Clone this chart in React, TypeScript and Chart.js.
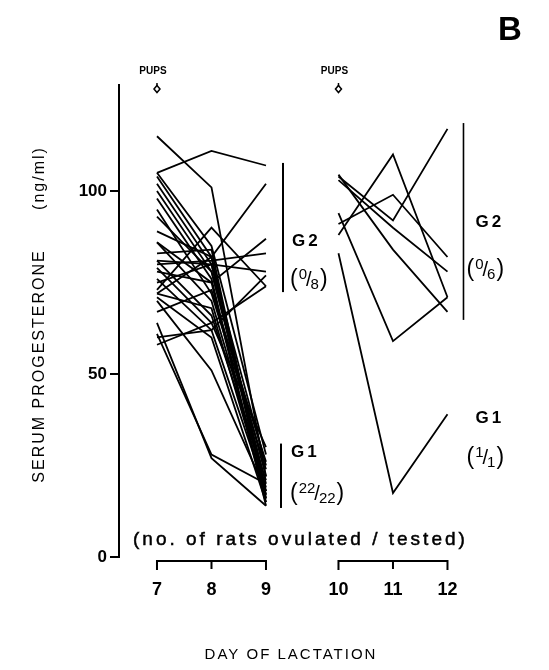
import React, { useEffect, useRef } from 'react';
import { Chart, registerables } from 'chart.js';

Chart.register(...registerables);

const FF = '"Liberation Sans", Arial, Helvetica, sans-serif';

// Days of lactation (two panels, with an axis break between 9 and 10)
const DAYS_EARLY = [7, 8, 9];
const DAYS_LATE = [10, 11, 12];
const X_TICK_DAYS = [7, 8, 9, 10, 11, 12];
const X_TICK_LABELS = ['7', '8', '9', '10', '11', '12'];
const Y_TICKS = [0, 50, 100];
const AXIS_BREAK = 0.33;

// Serum progesterone (ng/ml), one row per rat, values at days 7, 8, 9
const G1_EARLY: number[][] = [
  [115, 101, 22],
  [105, 85, 28],
  [104, 82, 18],
  [102, 80, 16],
  [100, 78, 20],
  [98, 76, 15],
  [95, 72, 24],
  [93, 78, 22],
  [89, 82, 17],
  [86, 70, 19],
  [83, 84, 16],
  [81, 66, 21],
  [78, 75, 14],
  [76, 62, 18],
  [75, 80, 25],
  [72, 68, 17],
  [71, 60, 15],
  [70, 51, 18],
  [67, 73, 26],
  [64, 27, 14],
  [61, 28, 20],
  [58, 64, 30],
];
const G2_EARLY: number[][] = [
  [105, 111, 107],
  [72, 82, 102],
  [73, 90, 74],
  [86, 75, 87],
  [80, 81, 83],
  [81, 80, 78],
  [60, 62, 77],
  [79, 64, 74],
];
// values at days 10, 11, 12
const G2_LATE: number[][] = [
  [104, 92, 117],
  [104.5, 84, 67],
  [88, 110, 71],
  [94, 59, 71],
  [91, 99, 82],
  [103, 90, 78],
];
const G1_LATE: number[][] = [[83, 17.5, 39]];

const pos = (d: number) => (d >= 10 ? d + AXIS_BREAK : d);

function frac(ctx: CanvasRenderingContext2D, x: number, yc: number, num: string, den: string) {
  ctx.textBaseline = 'alphabetic';
  ctx.textAlign = 'left';
  ctx.font = `23px ${FF}`;
  ctx.fillText('(', x, yc + 8);
  let cx = x + ctx.measureText('(').width + 1;
  ctx.font = `15px ${FF}`;
  ctx.fillText(num, cx, yc + 1);
  cx += ctx.measureText(num).width - 1;
  ctx.font = `20px ${FF}`;
  ctx.fillText('/', cx, yc + 8);
  cx += ctx.measureText('/').width - 1;
  ctx.font = `15px ${FF}`;
  ctx.fillText(den, cx, yc + 11);
  cx += ctx.measureText(den).width + 1;
  ctx.font = `23px ${FF}`;
  ctx.fillText(')', cx, yc + 8);
}

const annotations = {
  id: 'annotations',
  afterDraw(chart: any) {
    const { ctx } = chart;
    const xs = chart.scales.x;
    const ys = chart.scales.y;
    const X = (d: number) => xs.getPixelForValue(pos(d));
    const Y = (v: number) => ys.getPixelForValue(v);
    ctx.save();
    ctx.fillStyle = '#000';
    ctx.strokeStyle = '#000';

    // Panel letter
    ctx.font = `bold 33px ${FF}`;
    ctx.textAlign = 'center';
    ctx.textBaseline = 'middle';
    ctx.fillText('B', 510, 31);

    // PUPS markers
    for (const d of [7, 10]) {
      const px = X(d);
      ctx.font = `bold 10px ${FF}`;
      ctx.textAlign = 'center';
      ctx.textBaseline = 'middle';
      ctx.fillText('PUPS', px - 4, 71);
      ctx.lineWidth = 1.5;
      ctx.beginPath();
      ctx.moveTo(px, 83);
      ctx.lineTo(px, 86);
      ctx.stroke();
      ctx.beginPath();
      ctx.moveTo(px, 85.5);
      ctx.lineTo(px + 3, 89);
      ctx.lineTo(px, 92.5);
      ctx.lineTo(px - 3, 89);
      ctx.closePath();
      ctx.stroke();
    }

    // x brackets and day labels
    const by = Y(0) + 4;
    ctx.lineWidth = 2;
    for (const group of [DAYS_EARLY, DAYS_LATE]) {
      ctx.beginPath();
      ctx.moveTo(X(group[0]), by + 9);
      ctx.lineTo(X(group[0]), by);
      ctx.lineTo(X(group[group.length - 1]), by);
      ctx.lineTo(X(group[group.length - 1]), by + 9);
      ctx.moveTo(X(group[1]), by);
      ctx.lineTo(X(group[1]), by + 8);
      ctx.stroke();
    }
    ctx.font = `bold 18px ${FF}`;
    ctx.textAlign = 'center';
    ctx.textBaseline = 'middle';
    X_TICK_DAYS.forEach((d, i) => ctx.fillText(X_TICK_LABELS[i], X(d), by + 29));

    // Axis titles and notes
    (ctx as any).letterSpacing = '3px';
    ctx.font = `19px ${FF}`;
    ctx.textAlign = 'left';
    ctx.lineWidth = 0.5;
    ctx.fillText('(no. of rats ovulated / tested)', X(7) - 24, Y(0) - 17);
    ctx.strokeText('(no. of rats ovulated / tested)', X(7) - 24, Y(0) - 17);
    (ctx as any).letterSpacing = '2px';
    ctx.font = `15px ${FF}`;
    ctx.textAlign = 'center';
    ctx.fillText('DAY OF LACTATION', 291, 655);

    ctx.save();
    ctx.translate(40, 0);
    ctx.rotate(-Math.PI / 2);
    ctx.font = `16px ${FF}`;
    ctx.textAlign = 'center';
    ctx.fillText('SERUM PROGESTERONE', -366, 0);
    ctx.fillText('(ng/ml)', -178, 0);
    ctx.restore();

    // Group brackets
    ctx.lineWidth = 2;
    const vline = (px: number, a: number, b: number) => {
      ctx.beginPath();
      ctx.moveTo(px, Y(a));
      ctx.lineTo(px, Y(b));
      ctx.stroke();
    };
    vline(X(9) + 17, 107.7, 72.4);
    vline(X(9) + 15, 31, 13.4);
    ctx.lineWidth = 1.6;
    vline(X(12) + 16, 118.6, 64.8);

    // Group labels
    (ctx as any).letterSpacing = '3px';
    ctx.font = `bold 17px ${FF}`;
    ctx.textAlign = 'left';
    ctx.textBaseline = 'middle';
    ctx.fillText('G2', X(9) + 26, Y(86.3));
    ctx.fillText('G1', X(9) + 25, Y(28.7));
    ctx.fillText('G2', X(12) + 28, Y(91.5));
    ctx.fillText('G1', X(12) + 28, Y(38));
    (ctx as any).letterSpacing = '0px';
    frac(ctx, X(9) + 24, Y(76.2), '0', '8');
    frac(ctx, X(9) + 24, Y(17.8), '22', '22');
    frac(ctx, X(12) + 19, Y(79), '0', '6');
    frac(ctx, X(12) + 19, Y(27.6), '1', '1');

    ctx.restore();
  },
};

function series(rows: number[][], days: number[]) {
  return rows.map((row) => ({
    data: days.map((d, i) => ({ x: pos(d), y: row[i] })),
    borderColor: '#000',
    borderWidth: 1.8,
    pointRadius: 0,
    fill: false,
    tension: 0,
  }));
}

export default function App() {
  const ref = useRef<HTMLCanvasElement>(null);
  useEffect(() => {
    document.body.style.margin = '0';
    const canvas = ref.current!;
    const chart = new Chart(canvas, {
      type: 'line',
      data: {
        datasets: [
          ...series(G1_EARLY, DAYS_EARLY),
          ...series(G2_EARLY, DAYS_EARLY),
          ...series(G2_LATE, DAYS_LATE),
          ...series(G1_LATE, DAYS_LATE),
        ],
      },
      options: {
        responsive: false,
        animation: false,
        devicePixelRatio: 1,
        layout: { padding: { left: 0, top: 85, right: 19, bottom: 113 } },
        plugins: { legend: { display: false }, tooltip: { enabled: false } },
        scales: {
          x: { type: 'linear', min: 6.303, max: 13.844, display: false },
          y: {
            min: 0,
            max: 129,
            afterBuildTicks: (s: any) => {
              s.ticks = Y_TICKS.map((v) => ({ value: v }));
            },
            afterFit: (s: any) => {
              s.width = 119;
            },
            grid: {
              display: true,
              drawOnChartArea: false,
              drawTicks: true,
              tickLength: 9,
              color: '#000',
              lineWidth: 2,
            },
            border: { display: true, color: '#000', width: 2 },
            ticks: { color: '#000', font: { family: FF, size: 17, weight: 'bold' }, padding: 3 },
          },
        },
      },
      plugins: [annotations],
    } as any);
    return () => chart.destroy();
  }, []);
  return <canvas ref={ref} width={549} height={670} style={{ display: 'block' }} />;
}
